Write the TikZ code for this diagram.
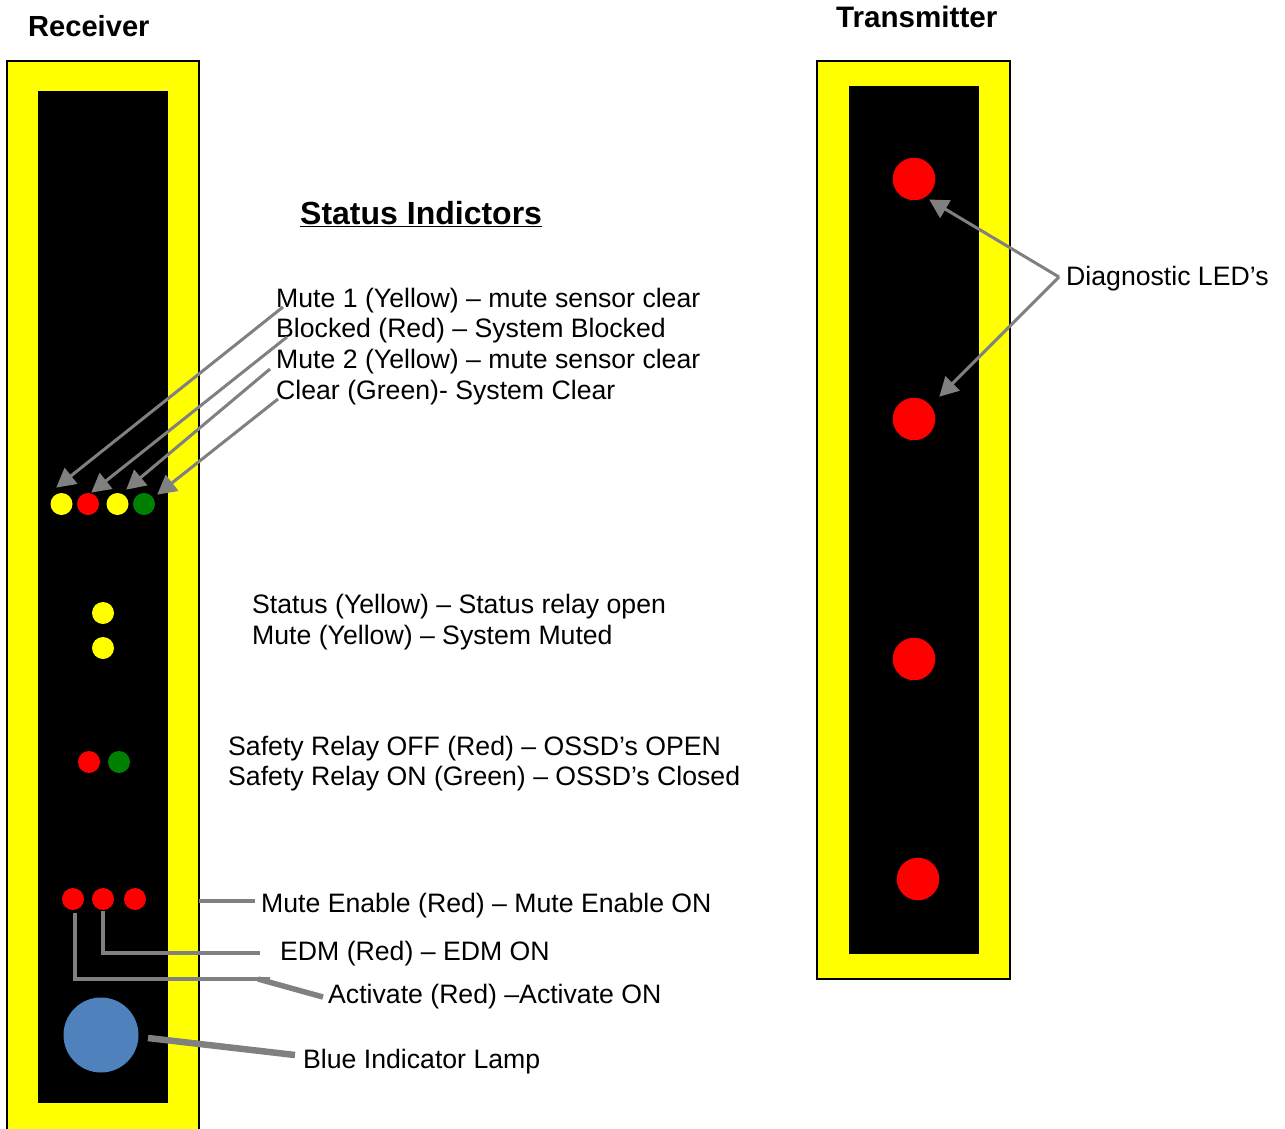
\documentclass[tikz,border=0pt]{standalone}
\usepackage{fontspec}
\setmainfont{Liberation Sans}
\usetikzlibrary{arrows.meta}
\definecolor{lampblue}{HTML}{4F81BD}
\definecolor{ledgreen}{HTML}{008000}
\definecolor{leadgray}{HTML}{808080}
\definecolor{pureyellow}{RGB}{255,255,0}
\definecolor{purered}{RGB}{255,0,0}
\tikzset{
  x=1pt,y=-1pt,
  housing/.style={draw=black,line width=1.3pt,fill=pureyellow},
  face/.style={fill=black},
  led/.style={circle,inner sep=0,minimum size=22pt,fill=#1},
  bigled/.style={circle,inner sep=0,minimum size=42.5pt,fill=purered},
  lamp/.style={circle,inner sep=0,minimum size=75pt,fill=lampblue},
  txt/.style={anchor=base west,inner sep=0,font=\fontsize{26.65pt}{30pt}\selectfont},
  head/.style={anchor=base west,inner sep=0,font=\fontsize{29.1pt}{33pt}\selectfont\bfseries},
  lead/.style={draw=leadgray,line width=3pt},
  leadarrow/.style={lead,-{Triangle[length=19pt,width=20pt]},shorten >=-1pt},
  leadthin/.style={draw=leadgray,line width=3.8pt,line join=miter},
  leadthick/.style={draw=leadgray,line width=5.5pt},
  leadlamp/.style={draw=leadgray,line width=6.5pt},
}
\begin{document}
\begin{tikzpicture}
\useasboundingbox (0,0) rectangle (1285,1129);
% housings
\path[housing] (7,61) rectangle (199,1140);
\path[face] (38,91) rectangle (168,1103);
\path[housing] (817,61) rectangle (1010,979);
\path[face] (849,86) rectangle (979,954);
% receiver leds
\node[led=pureyellow] (m1) at (61.5,504) {};
\node[led=purered] (bl) at (88,504) {};
\node[led=pureyellow] (m2) at (117.5,504) {};
\node[led=ledgreen] (cl) at (144,504) {};
\node[led=pureyellow] (st) at (103,613) {};
\node[led=pureyellow] (mu) at (103,648) {};
\node[led=purered] (so) at (89,762) {};
\node[led=ledgreen] (sg) at (119,762) {};
\node[led=purered] (ac) at (73,899) {};
\node[led=purered] (ed) at (103,899) {};
\node[led=purered] (me) at (135,899) {};
\node[lamp] (lamp) at (101,1035) {};
% transmitter leds
\node[bigled] (d1) at (914,179) {};
\node[bigled] (d2) at (914,419) {};
\node[bigled] (d3) at (914,659) {};
\node[bigled] (d4) at (918,879) {};
% texts
\node[head] (rx) at (28,37) {Receiver};
\node[head,font=\fontsize{29.6pt}{33pt}\selectfont\bfseries] (tx) at (836,28) {Transmitter};
\node[head,font=\fontsize{32pt}{36pt}\selectfont\bfseries] (si) at (300,224) {\underline{Status Indictors}};
\node[txt] (t1) at (276,307) {Mute 1 (Yellow) – mute sensor clear};
\node[txt] (t2) at (276,337) {Blocked (Red) – System Blocked};
\node[txt] (t3) at (276,368) {Mute 2 (Yellow) – mute sensor clear};
\node[txt] (t4) at (276,399) {Clear (Green)- System Clear};
\node[txt] (t5) at (252,613) {Status (Yellow) – Status relay open};
\node[txt] (t6) at (252,644) {Mute (Yellow) – System Muted};
\node[txt] (t7) at (228,755) {Safety Relay OFF (Red) – OSSD’s OPEN};
\node[txt] (t8) at (228,785) {Safety Relay ON (Green) – OSSD’s Closed};
\node[txt] (t9) at (261,912) {Mute Enable (Red) – Mute Enable ON};
\node[txt] (t10) at (280,960) {EDM (Red) – EDM ON};
\node[txt] (t11) at (328,1003) {Activate (Red) –Activate ON};
\node[txt] (t12) at (303,1068) {Blue Indicator Lamp};
\node[txt] (t13) at (1066,285) {Diagnostic LED’s};
% connector ends
\coordinate (a1s) at (283,307); \coordinate (a1e) at (57,487);
\coordinate (a2s) at (287,337); \coordinate (a2e) at (92,492);
\coordinate (a3s) at (270,369); \coordinate (a3e) at (127,489);
\coordinate (a4s) at (278,399); \coordinate (a4e) at (158,494);
\coordinate (dj) at (1059,277);
\coordinate (d1e) at (930,200); \coordinate (d2e) at (940,396);
\coordinate (mes) at (199,901); \coordinate (mee) at (255,901);
\coordinate (eds) at (103,911); \coordinate (edc) at (103,953); \coordinate (ede) at (260,953);
\coordinate (acs) at (75,913); \coordinate (acc) at (75,979); \coordinate (acm) at (270,979);
\coordinate (acj) at (258,979); \coordinate (ace) at (323,997);
\coordinate (lps) at (148,1038); \coordinate (lpe) at (295,1055);
% connectors
\draw[leadarrow] (a1s) -- (a1e);
\draw[leadarrow] (a2s) -- (a2e);
\draw[leadarrow] (a3s) -- (a3e);
\draw[leadarrow] (a4s) -- (a4e);
\draw[leadarrow] (dj) -- (d1e);
\draw[leadarrow] (dj) -- (d2e);
\draw[leadthin] (mes) -- (mee);
\draw[leadthin] (eds) -- (edc) -- (ede);
\draw[leadthin] (acs) -- (acc) -- (acm);
\draw[leadthick] (acj) -- (ace);
\draw[leadlamp] (lps) -- (lpe);
\end{tikzpicture}
\end{document}
